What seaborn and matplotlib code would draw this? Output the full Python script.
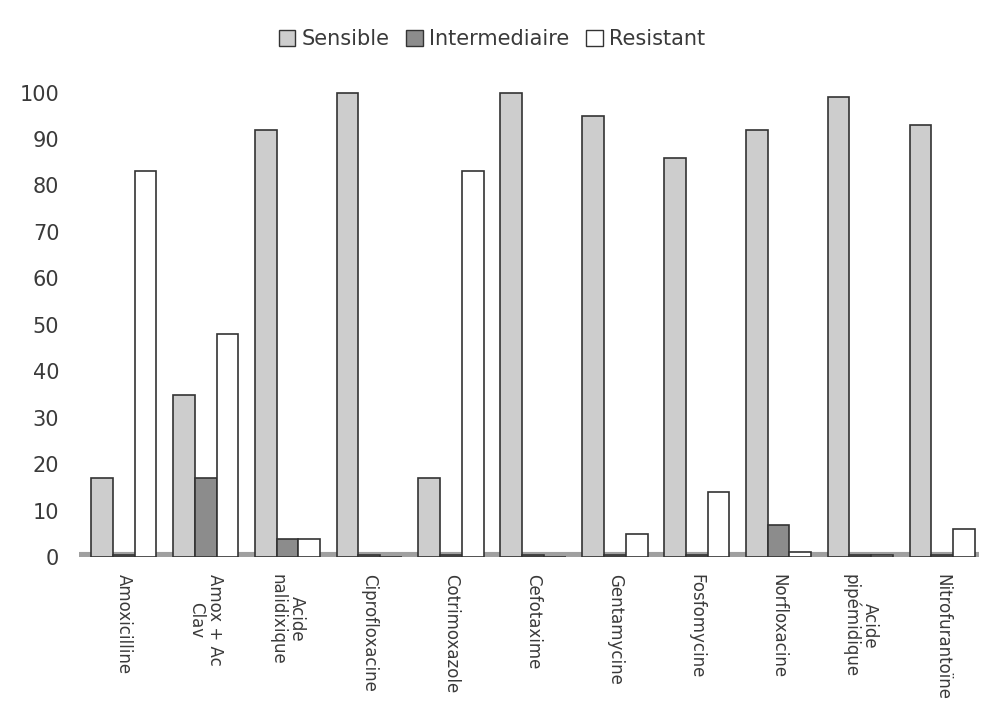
import matplotlib
matplotlib.use("Agg")
import matplotlib.pyplot as plt
import matplotlib.patches as mpatches
import seaborn as sns
import pandas as pd

# Antibiotic susceptibility (%) per molecule
antibiotics = [
    "Amoxicilline", "Amox + Ac\nClav", "Acide\nnalidixique", "Ciprofloxacine",
    "Cotrimoxazole", "Cefotaxime", "Gentamycine", "Fosfomycine",
    "Norfloxacine", "Acide\npipémidique", "Nitrofurantoïne",
]
sensible = [17, 35, 92, 100, 17, 100, 95, 86, 92, 99, 93]
intermediaire = [0.5, 17, 4, 0.5, 0.5, 0.5, 0.5, 0.5, 7, 0.5, 0.5]
resistant = [83, 48, 4, 0, 83, 0, 5, 14, 1, 0.5, 6]
categories = ["Sensible", "Intermediaire", "Resistant"]
yticks = list(range(0, 101, 10))

df = pd.DataFrame({
    "antibiotique": antibiotics * 3,
    "categorie": [c for c in categories for _ in antibiotics],
    "pourcentage": sensible + intermediaire + resistant,
})

palette = {"Sensible": "#cdcdcd", "Intermediaire": "#8c8c8c", "Resistant": "#ffffff"}
text_color = "#3a3a3a"

sns.set_theme(style="white")
plt.rcParams["font.family"] = ["DejaVu Sans"]

fig = plt.figure(figsize=(9.84, 7.07), dpi=100)
ax = fig.add_axes([0.08, 0.212, 0.915, 0.69])

sns.barplot(
    data=df, x="antibiotique", y="pourcentage", hue="categorie",
    hue_order=categories, order=antibiotics, palette=palette,
    edgecolor="#333333", linewidth=1.2, saturation=1, legend=False, ax=ax,
)

# floor of the chart
ax.axhline(0, color="#a0a0a0", linewidth=8, zorder=0.5)

ax.set_ylim(0, 105)
ax.set_xlim(-0.55, 10.45)
ax.set_yticks(yticks)
ax.set_yticklabels([str(t) for t in yticks], fontsize=15, color=text_color)
ax.tick_params(axis="y", length=0, pad=14)
ax.tick_params(axis="x", length=0, pad=12)
ax.set_xticks(range(len(antibiotics)))
ax.set_xticklabels(antibiotics, rotation=-90, fontsize=12, color=text_color,
                   va="top", ha="center", multialignment="center",
                   linespacing=1.1)
ax.set_xlabel("")
ax.set_ylabel("")
for s in ax.spines.values():
    s.set_visible(False)

handles = [mpatches.Patch(facecolor=palette[c], edgecolor="#333333", label=c)
           for c in categories]
fig.legend(handles=handles, loc="upper center", bbox_to_anchor=(0.5, 0.985),
           ncol=3, frameon=False, fontsize=15, handlelength=0.8, handleheight=0.8,
           handletextpad=0.3, columnspacing=0.8, labelcolor=text_color)

fig.savefig("out.png", dpi=100)
